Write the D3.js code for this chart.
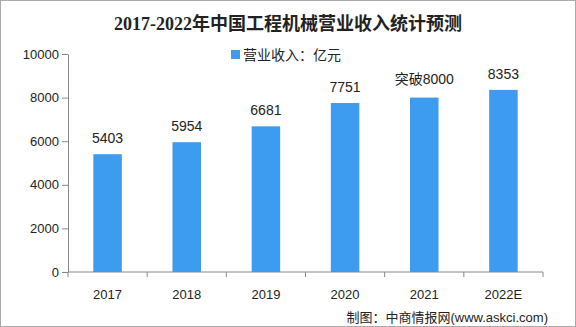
<!DOCTYPE html>
<html>
<head>
<meta charset="utf-8">
<script src="https://cdn.jsdelivr.net/npm/d3@7"></script>
<style>
  body { margin: 0; background: #fff; }
  text { font-family: "Liberation Sans", "Noto Sans CJK SC", sans-serif; }
</style>
</head>
<body>
<script>
// chart data
var years = ["2017", "2018", "2019", "2020", "2021", "2022E"];
var revenue = [5403, 5954, 6681, 7751, 8000, 8353];
var valueLabels = ["5403", "5954", "6681", "7751", "突破8000", "8353"];
var yTicks = [0, 2000, 4000, 6000, 8000, 10000];

var W = 576, H = 327;
var margin = {top: 54, right: 33, bottom: 55, left: 68},
    width = W - margin.left - margin.right,
    height = H - margin.top - margin.bottom;

var barColor = "#3d9cf0",
    axisColor = "#888";

var svg = d3.select("body").append("svg")
    .attr("width", W)
    .attr("height", H);

// outer frame
svg.append("rect")
    .attr("x", 0.5).attr("y", 0.5)
    .attr("width", W - 1).attr("height", H - 1)
    .attr("fill", "none")
    .attr("stroke", "#aaa");

// title
svg.append("text")
    .attr("x", 288)
    .attr("y", 30)
    .attr("text-anchor", "middle")
    .style("font-family", "'Liberation Serif', 'Noto Sans CJK SC', serif")
    .style("font-size", "18px")
    .style("font-weight", "bold")
    .attr("fill", "#222")
    .text("2017-2022年中国工程机械营业收入统计预测");

// legend
svg.append("rect")
    .attr("x", 231).attr("y", 50)
    .attr("width", 9).attr("height", 9)
    .attr("fill", barColor);
svg.append("text")
    .attr("x", 243)
    .attr("y", 60)
    .style("font-family", "'Noto Sans CJK SC', sans-serif")
    .style("font-size", "14px")
    .attr("fill", "#222")
    .text("营业收入：亿元");

var g = svg.append("g")
    .attr("transform", "translate(" + margin.left + "," + margin.top + ")");

var x = d3.scaleBand().domain(years).range([0, width]).paddingInner(0.64).paddingOuter(0.32);
var y = d3.scaleLinear().domain([0, 10000]).range([height, 0]);

// y axis
var yAxis = g.append("g")
    .call(d3.axisLeft(y).tickValues(yTicks).tickFormat(d3.format("d")).tickSize(6).tickSizeOuter(0));
yAxis.select(".domain").attr("stroke", axisColor);
yAxis.selectAll(".tick line").attr("stroke", axisColor);
yAxis.selectAll(".tick text")
    .attr("x", -9)
    .attr("fill", "#222")
    .style("font-size", "13px");

// x axis with ticks between categories
var xAxis = g.append("g")
    .attr("transform", "translate(0," + height + ")");
xAxis.append("line")
    .attr("x1", 0).attr("x2", width)
    .attr("stroke", axisColor);
var edges = d3.range(years.length + 1).map(function(i) { return i * x.step(); });
xAxis.selectAll(".xtick")
    .data(edges)
    .enter().append("line")
    .attr("class", "xtick")
    .attr("x1", function(d) { return d; })
    .attr("x2", function(d) { return d; })
    .attr("y1", 0).attr("y2", 5)
    .attr("stroke", axisColor);
xAxis.selectAll(".xlabel")
    .data(years)
    .enter().append("text")
    .attr("class", "xlabel")
    .attr("x", function(d) { return x(d) + x.bandwidth() / 2; })
    .attr("y", 27)
    .attr("text-anchor", "middle")
    .attr("fill", "#222")
    .style("font-size", "13px")
    .text(function(d) { return d; });

// bars
g.selectAll(".bar")
    .data(revenue)
    .enter().append("rect")
    .attr("class", "bar")
    .attr("x", function(d, i) { return x(years[i]); })
    .attr("y", function(d) { return y(d); })
    .attr("width", x.bandwidth())
    .attr("height", function(d) { return height - y(d); })
    .attr("fill", barColor);

// value labels
g.selectAll(".val")
    .data(revenue)
    .enter().append("text")
    .attr("class", "val")
    .attr("x", function(d, i) { return x(years[i]) + x.bandwidth() / 2; })
    .attr("y", function(d, i) { return y(d) - (i === 4 ? 14 : 11); })
    .attr("text-anchor", "middle")
    .attr("fill", "#222")
    .style("font-size", "14px")
    .text(function(d, i) { return valueLabels[i]; });

// source note
svg.append("text")
    .attr("x", 548)
    .attr("y", 322)
    .attr("text-anchor", "end")
    .attr("fill", "#222")
    .style("font-size", "13px")
    .text("制图：中商情报网(www.askci.com)");
</script>
</body>
</html>
